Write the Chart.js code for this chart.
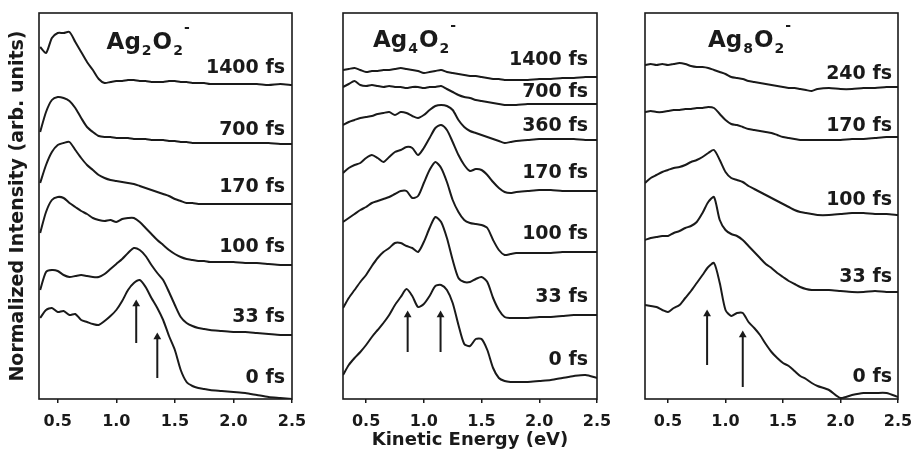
<!DOCTYPE html>
<html>
<head>
<meta charset="utf-8">
<script src="https://cdn.jsdelivr.net/npm/chart.js@4.4.1/dist/chart.umd.min.js"></script>
<style>
  html, body { margin: 0; padding: 0; background: #fff; overflow: hidden; }
  #wrap { position: relative; width: 914px; height: 452px; overflow: hidden; }
  canvas { position: absolute; top: 0; }
</style>
</head>
<body>
<div id="wrap">
  <canvas id="p1" width="316" height="452" style="left:0px"></canvas>
  <canvas id="p2" width="308" height="452" style="left:313px"></canvas>
  <canvas id="p3" width="307" height="452" style="left:615px"></canvas>
</div>
<script>
const INK = '#1a1a1a';
const FONT = '"DejaVu Sans", sans-serif';

// kinetic energy grids (eV)
const energy2 = [0.35, 0.40, 0.45, 0.50, 0.55, 0.60, 0.65, 0.70, 0.75, 0.80, 0.85, 0.90, 0.95, 1.00, 1.05, 1.10, 1.15, 1.20, 1.25, 1.30,
  1.35, 1.40, 1.45, 1.50, 1.55, 1.60, 1.65, 1.70, 1.75, 1.80, 1.9, 2.0, 2.1, 2.2, 2.3, 2.4, 2.5];
const energy48 = [0.30, 0.35, 0.40, 0.45, 0.50, 0.55, 0.60, 0.65, 0.70, 0.75, 0.80, 0.85, 0.90, 0.95, 1.00, 1.05, 1.10, 1.15, 1.20, 1.25,
  1.30, 1.35, 1.40, 1.45, 1.50, 1.55, 1.60, 1.65, 1.70, 1.75, 1.80, 1.9, 2.0, 2.1, 2.2, 2.3, 2.4, 2.5];
const tickValues = [0.5, 1.0, 1.5, 2.0, 2.5];

// Ag2O2- spectra, stacked (arb. units)
const ag2Delays = ['1400 fs', '700 fs', '170 fs', '100 fs', '33 fs', '0 fs'];
const ag2Levels = [331, 269, 212, 152, 82, 21];
const ag2_1400 = [352, 346, 361, 366, 366, 367, 357, 347, 337, 329, 320, 316, 317, 318, 318, 319, 319, 318, 318, 317, 317, 317, 318, 318, 317, 317, 316, 316, 316, 315, 315, 315, 315, 315, 314, 315, 314];
const ag2_700 = [267, 287, 299, 302, 301, 298, 291, 281, 272, 267, 263, 262, 262, 261, 261, 261, 260, 260, 260, 259, 259, 259, 258, 258, 257, 257, 256, 256, 256, 256, 256, 256, 256, 256, 256, 255, 255];
const ag2_170 = [216, 234, 247, 254, 256, 257, 249, 241, 234, 229, 224, 221, 219, 218, 217, 216, 215, 213, 211, 209, 207, 205, 203, 200, 198, 196, 196, 195, 195, 195, 195, 195, 195, 195, 195, 195, 195];
const ag2_100 = [166, 187, 199, 202, 201, 196, 192, 188, 185, 181, 179, 178, 179, 177, 180, 181, 181, 177, 171, 165, 159, 154, 149, 145, 142, 140, 139, 138, 138, 137, 137, 137, 136, 136, 135, 134, 134];
const ag2_33 = [109, 127, 129, 128, 124, 122, 123, 124, 123, 122, 122, 125, 130, 135, 140, 146, 151, 149, 143, 134, 126, 119, 107, 94, 82, 76, 73, 71, 70, 69, 68, 67, 67, 66, 65, 64, 64];
const ag2_0 = [81, 89, 91, 87, 88, 84, 85, 79, 77, 75, 74, 78, 83, 89, 98, 109, 116, 119, 112, 101, 91, 79, 63, 49, 29, 17, 13, 11, 10, 9, 8, 7, 6, 4, 2, 1, 0];
const ag2Arrows = [[1.17, 56, 95], [1.35, 21, 62]];

// Ag4O2-
const ag4Delays = ['1400 fs', '700 fs', '360 fs', '170 fs', '100 fs', '33 fs', '0 fs'];
const ag4Levels = [339, 307, 273, 226, 165, 102, 39];
const ag4_1400 = [329, 330, 331, 329, 327, 328, 328, 329, 329, 330, 331, 330, 329, 328, 326, 327, 328, 329, 327, 326, 325, 324, 323, 323, 322, 321, 320, 320, 319, 319, 319, 319, 320, 320, 321, 321, 322, 322];
const ag4_700 = [312, 315, 318, 314, 313, 314, 313, 312, 313, 312, 312, 311, 312, 312, 311, 312, 312, 313, 310, 307, 304, 302, 301, 299, 298, 297, 296, 295, 294, 294, 294, 295, 295, 295, 295, 295, 295, 295];
const ag4_360 = [274, 277, 279, 281, 282, 283, 285, 286, 287, 284, 287, 286, 283, 281, 284, 289, 293, 294, 293, 289, 279, 272, 268, 266, 264, 262, 260, 258, 256, 257, 258, 259, 260, 260, 260, 260, 259, 259];
const ag4_170 = [226, 231, 234, 236, 241, 244, 241, 237, 242, 247, 249, 252, 251, 244, 251, 261, 271, 274, 269, 257, 244, 234, 228, 230, 229, 224, 217, 211, 207, 206, 207, 208, 209, 209, 208, 208, 208, 208];
const ag4_100 = [177, 181, 185, 189, 192, 196, 198, 200, 202, 205, 208, 208, 201, 203, 216, 229, 237, 231, 217, 199, 187, 179, 176, 175, 174, 171, 159, 149, 144, 145, 146, 146, 146, 146, 147, 147, 147, 147];
const ag4_33 = [91, 101, 109, 117, 124, 133, 141, 147, 151, 156, 156, 153, 151, 147, 157, 171, 182, 177, 161, 139, 121, 117, 117, 120, 122, 117, 101, 89, 82, 81, 81, 81, 82, 82, 83, 84, 84, 84];
const ag4_0 = [24, 34, 41, 47, 54, 62, 69, 76, 84, 94, 102, 110, 103, 92, 95, 103, 113, 114, 109, 96, 74, 55, 53, 60, 60, 49, 31, 21, 18, 17, 17, 17, 18, 19, 21, 23, 24, 21];
const ag4Arrows = [[0.86, 47, 84], [1.145, 47, 84]];

// Ag8O2-
const ag8Delays = ['240 fs', '170 fs', '100 fs', '33 fs', '0 fs'];
const ag8Levels = [325, 273, 199, 122, 22];
const ag8_240 = [334, 335, 334, 335, 334, 335, 336, 335, 333, 332, 332, 331, 329, 327, 325, 322, 321, 320, 318, 317, 316, 315, 314, 313, 312, 311, 311, 310, 309, 308, 310, 311, 310, 310, 311, 311, 312, 312];
const ag8_170 = [287, 288, 287, 287, 288, 289, 289, 290, 290, 291, 291, 292, 291, 285, 279, 275, 274, 272, 270, 269, 268, 267, 266, 264, 262, 261, 260, 259, 259, 259, 259, 259, 259, 260, 260, 261, 262, 262];
const ag8_100 = [216, 221, 224, 227, 229, 231, 232, 234, 237, 239, 242, 246, 249, 239, 227, 221, 219, 217, 213, 210, 207, 204, 201, 198, 195, 192, 189, 187, 186, 185, 184, 184, 185, 186, 186, 185, 185, 184];
const ag8_33 = [159, 161, 162, 163, 163, 166, 168, 171, 173, 177, 186, 197, 202, 179, 169, 165, 163, 159, 153, 147, 141, 135, 131, 126, 122, 118, 115, 112, 110, 109, 109, 109, 108, 107, 107, 108, 107, 107];
const ag8_0 = [94, 93, 92, 89, 87, 91, 94, 101, 108, 116, 124, 132, 136, 116, 89, 83, 86, 86, 77, 71, 64, 55, 47, 41, 36, 33, 28, 23, 20, 16, 13, 9, 1, 4, 6, 6, 6, 2];
const ag8Arrows = [[0.84, 34, 85], [1.15, 12, 64]];

// frame, delay labels and species name
const panelDecor = {
  id: 'panelDecor',
  afterDatasetsDraw(chart, args, opts) {
    const { ctx, chartArea: a } = chart;
    const x = chart.scales.x, y = chart.scales.y;
    ctx.save();
    ctx.strokeStyle = INK;
    ctx.lineWidth = 1.6;
    ctx.strokeRect(a.left, a.top, a.right - a.left, a.bottom - a.top);
    ctx.fillStyle = INK;
    ctx.font = 'bold 19px ' + FONT;
    ctx.textAlign = 'right';
    ctx.textBaseline = 'middle';
    opts.delays.forEach((d, i) => ctx.fillText(d, a.right - opts.inset, y.getPixelForValue(opts.levels[i])));

    ctx.textAlign = 'left';
    ctx.textBaseline = 'alphabetic';
    let px = x.getPixelForValue(opts.nameAt[0]);
    const base = y.getPixelForValue(opts.nameAt[1]);
    const parts = [['Ag', 23, 0], [String(opts.n), 14, 6], ['O', 23, 0], ['2', 14, 6], ['-', 14, -17]];
    parts.forEach(([t, size, dy]) => {
      ctx.font = 'bold ' + size + 'px ' + FONT;
      ctx.fillText(t, px, base + dy);
      px += ctx.measureText(t).width + 1;
    });
    ctx.restore();
  }
};

function makePanel(id, o) {
  const datasets = o.traces.map(vals => ({
    data: o.energy.map((e, i) => ({ x: e, y: vals[i] })),
    borderColor: INK,
    borderWidth: 2,
    pointRadius: 0,
    tension: 0.25
  }));
  o.arrows.forEach(([e, lo, hi]) => datasets.push({
    data: [{ x: e, y: lo }, { x: e, y: hi }],
    borderColor: INK,
    backgroundColor: INK,
    borderWidth: 2,
    pointStyle: 'triangle',
    pointRadius: [0, 4.5],
    pointBorderWidth: 0
  }));

  new Chart(document.getElementById(id), {
    type: 'line',
    data: { datasets },
    plugins: [panelDecor],
    options: {
      responsive: false,
      animation: false,
      layout: { padding: { top: 13, right: 24, bottom: 0, left: o.padLeft } },
      plugins: {
        legend: { display: false },
        tooltip: { enabled: false },
        panelDecor: { delays: o.delays, levels: o.levels, nameAt: o.nameAt, n: o.n, inset: o.inset }
      },
      scales: {
        x: {
          type: 'linear',
          min: o.min,
          max: 2.5,
          afterBuildTicks: s => { s.ticks = tickValues.map(v => ({ value: v })); },
          afterFit: s => { s.height = 53; },
          grid: { drawOnChartArea: false, tickLength: 4, color: INK, lineWidth: 1.5 },
          border: { display: false },
          ticks: {
            color: INK,
            padding: 9,
            maxRotation: 0,
            font: { family: FONT, weight: 'bold', size: 16 },
            callback: v => v.toFixed(1)
          },
          title: {
            display: !!o.xTitle,
            text: 'Kinetic Energy (eV)',
            color: INK,
            font: { family: FONT, weight: 'bold', size: 18 },
            padding: { top: 0, bottom: 1 }
          }
        },
        y: {
          min: 0,
          max: 386,
          display: !!o.yTitle,
          afterFit: s => { if (o.yTitle) s.width = 39; },
          grid: { display: false },
          border: { display: false },
          ticks: { display: false },
          title: {
            display: true,
            text: 'Normalized Intensity (arb. units)',
            color: INK,
            font: { family: FONT, weight: 'bold', size: 19 },
            padding: { top: 7, bottom: 0 }
          }
        }
      }
    }
  });
}

makePanel('p1', {
  energy: energy2, min: 0.34, padLeft: 0, yTitle: true, n: 2, inset: 7,
  traces: [ag2_1400, ag2_700, ag2_170, ag2_100, ag2_33, ag2_0],
  delays: ag2Delays, levels: ag2Levels, arrows: ag2Arrows, nameAt: [0.917, 350]
});
makePanel('p2', {
  energy: energy48, min: 0.3, padLeft: 30, xTitle: true, n: 4, inset: 9,
  traces: [ag4_1400, ag4_700, ag4_360, ag4_170, ag4_100, ag4_33, ag4_0],
  delays: ag4Delays, levels: ag4Levels, arrows: ag4Arrows, nameAt: [0.56, 352]
});
makePanel('p3', {
  energy: energy48, min: 0.3, padLeft: 30, n: 8, inset: 6,
  traces: [ag8_240, ag8_170, ag8_100, ag8_33, ag8_0],
  delays: ag8Delays, levels: ag8Levels, arrows: ag8Arrows, nameAt: [0.848, 352]
});
</script>
</body>
</html>
